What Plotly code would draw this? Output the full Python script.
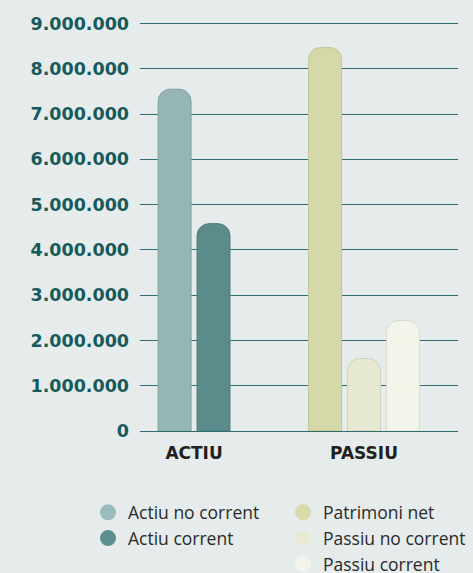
import plotly.graph_objects as go

categories = ["ACTIU", "PASSIU"]
series_names = ["Actiu no corrent", "Actiu corrent", "Patrimoni net", "Passiu no corrent", "Passiu corrent"]
series_category = ["ACTIU", "ACTIU", "PASSIU", "PASSIU", "PASSIU"]
series_values = [7550000, 4580000, 8470000, 1600000, 2440000]
series_colors = ["#96b5b5", "#5c8b8b", "#d5d8a8", "#e6e8d1", "#f3f4ea"]
edge_colors = ["#83a2a2", "#4f7c7c", "#c2c596", "#d0d2bb", "#d9dad0"]
legend_colors = ["#9bbcbc", "#5b8e8e", "#d8dbaa", "#e8ead3", "#f4f5ea"]
legend_ids = ["legend", "legend", "legend2", "legend2", "legend2"]
y_ticks = [0, 1000000, 2000000, 3000000, 4000000, 5000000, 6000000, 7000000, 8000000, 9000000]

# layout/style constants
bar_w = 0.194
pitch = 0.229

fig = go.Figure()
for cat in categories:
    idxs = [i for i, c in enumerate(series_category) if c == cat]
    n = len(idxs)
    total = n * bar_w + (n - 1) * (pitch - bar_w)
    for k, i in enumerate(idxs):
        fig.add_trace(go.Bar(
            x=[cat], y=[series_values[i]], name=series_names[i],
            width=bar_w, offset=-total / 2 + k * pitch,
            marker=dict(color=series_colors[i], line=dict(color=edge_colors[i], width=1)),
            showlegend=False, hoverinfo="skip",
        ))

for i, nm in enumerate(series_names):
    fig.add_trace(go.Scatter(
        x=[None], y=[None], mode="markers", name=nm,
        marker=dict(size=16, color=legend_colors[i], symbol="circle"),
        legend=legend_ids[i], showlegend=True,
    ))

bg = "#e5eceb"
grid = "#2f6e70"
legend_font = dict(family="Open Sans", size=17.5, color="#2a2a2a")
fig.update_layout(
    width=473, height=573,
    margin=dict(l=140, r=15, t=19, b=142, autoexpand=False),
    paper_bgcolor=bg, plot_bgcolor=bg,
    barmode="overlay", barcornerradius=12,
    separators=",.",
    showlegend=True,
    legend=dict(x=88 / 473, y=0.137, xref="container", yref="container",
                xanchor="left", yanchor="top",
                orientation="v", bgcolor="rgba(0,0,0,0)", traceorder="normal",
                font=legend_font, itemwidth=30),
    legend2=dict(x=283 / 473, y=0.137, xref="container", yref="container",
                 xanchor="left", yanchor="top",
                 orientation="v", bgcolor="rgba(0,0,0,0)", traceorder="normal",
                 font=legend_font, itemwidth=30),
    font=dict(family="DejaVu Sans"),
)
fig.update_yaxes(
    range=[0, 9100000], tickvals=y_ticks, tickformat=",d",
    showgrid=True, gridcolor=grid, gridwidth=1.3, zeroline=False,
    tickfont=dict(family="DejaVu Sans", size=17.5, color="#165a5c", weight="bold"),
    ticklabelstandoff=10, automargin=False,
)
fig.update_xaxes(
    type="category", categoryarray=categories, range=[-0.318, 1.553],
    showline=True, linecolor=grid, linewidth=1.3,
    tickfont=dict(family="DejaVu Sans", size=17, color="#231f20", weight="bold"),
    ticklabelstandoff=6, automargin=False,
)

fig.write_html("out.html")
